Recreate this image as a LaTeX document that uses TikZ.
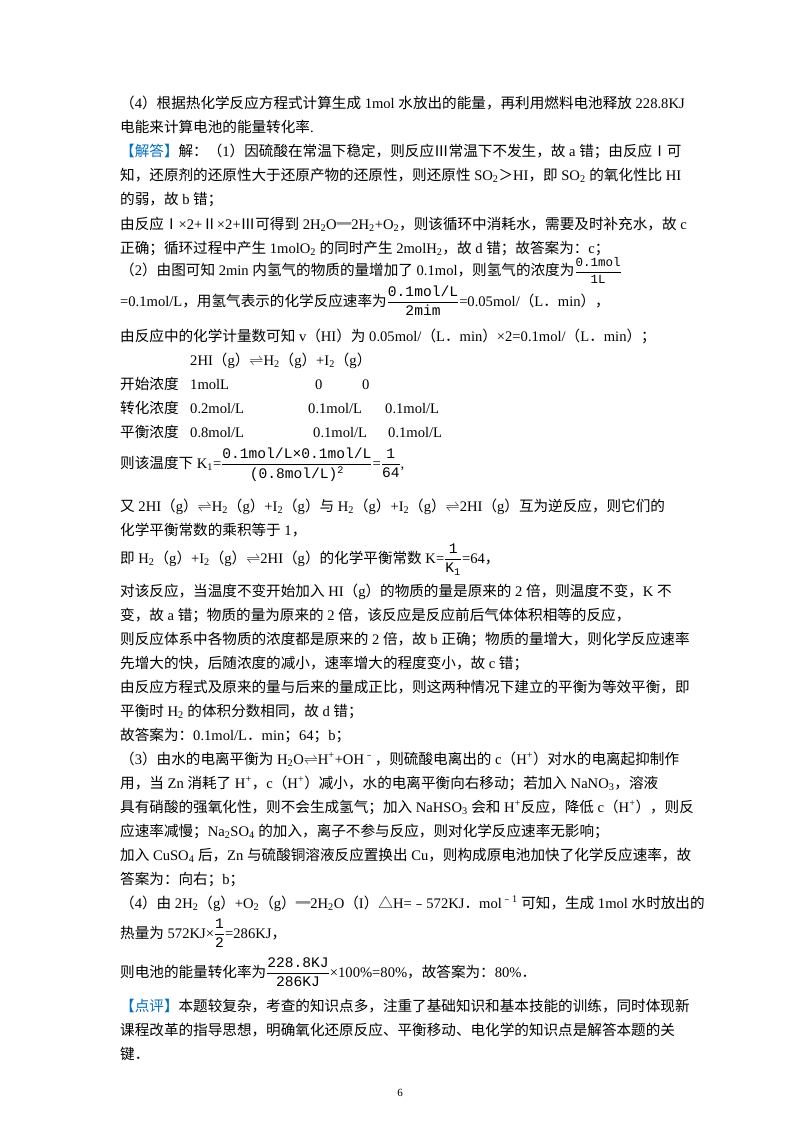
\documentclass[tikz,border=0pt]{standalone}
\usepackage{amsmath}
\usepackage{fontspec}
\setmainfont{Liberation Serif}
\newfontfamily\cjkfont{Noto Sans CJK SC}
\newfontfamily\monof{Liberation Mono}
\XeTeXinterchartokenstate=1
\newXeTeXintercharclass\cjkclass
\newcount\cc
\def\setrange#1#2{\cc=#1 \loop \XeTeXcharclass\cc=\cjkclass \ifnum\cc<#2 \advance\cc 1 \repeat}
\setrange{"4E00}{"9FFF}
\setrange{"3000}{"303F}
\setrange{"FF00}{"FFEF}
\setrange{"FE30}{"FE6F}
\setrange{"2160}{"216F}
\setrange{"25A0}{"25FF}
\setrange{"2550}{"2550}
\XeTeXinterchartoks 0 \cjkclass = {\cjkfont}
\XeTeXinterchartoks 4095 \cjkclass = {\cjkfont}
\XeTeXinterchartoks \cjkclass 0 = {\rmfamily}
\XeTeXinterchartoks \cjkclass 4095 = {\rmfamily}
\definecolor{hl}{RGB}{0,112,192}
\newcommand{\frc}[2]{$\dfrac{\hbox{\monof #1}}{\hbox{\monof #2}}$}
\newcommand{\eqh}{$\rightleftharpoons$}
\begin{document}
\begin{tikzpicture}[x=1pt,y=-1pt,t/.style={anchor=base west,inner sep=0,font=\fontsize{14.6}{22}\selectfont}]
\fill[white] (0,0) rectangle (800,1132);
\useasboundingbox (0,0) rectangle (800,1132);
\node[t] (l1) at (120,108) {（4）根据热化学反应方程式计算生成 1mol 水放出的能量，再利用燃料电池释放 228.8KJ};
\node[t] (l2) at (120,132) {电能来计算电池的能量转化率.};
\node[t] (l3) at (120,156) {\textcolor{hl}{【解答】}解：（1）因硫酸在常温下稳定，则反应Ⅲ常温下不发生，故 a 错；由反应Ⅰ可};
\node[t] (l4) at (120,180) {知，还原剂的还原性大于还原产物的还原性，则还原性 SO\textsubscript{2}＞HI，即 SO\textsubscript{2} 的氧化性比 HI};
\node[t] (l5) at (120,204) {的弱，故 b 错；};
\node[t] (l6) at (120,229) {由反应Ⅰ×2+Ⅱ×2+Ⅲ可得到 2H\textsubscript{2}O═2H\textsubscript{2}+O\textsubscript{2}，则该循环中消耗水，需要及时补充水，故 c};
\node[t] (l7) at (120,253) {正确；循环过程中产生 1molO\textsubscript{2} 的同时产生 2molH\textsubscript{2}，故 d 错；故答案为：c；};
\node[t] (l8) at (120,275) {（2）由图可知 2min 内氢气的物质的量增加了 0.1mol，则氢气的浓度为{\fontsize{12.5}{14}\selectfont\frc{0.1mol}{1L}}};
\node[t] (l9) at (120,306) {=0.1mol/L，用氢气表示的化学反应速率为\frc{0.1mol/L}{2mim}=0.05mol/（L．min），};
\node[t] (l10) at (120,341) {由反应中的化学计量数可知 v（HI）为 0.05mol/（L．min）×2=0.1mol/（L．min）；};
\node[t] (l11) at (190,365) {2HI（g）\eqh H\textsubscript{2}（g）+I\textsubscript{2}（g）};
\node[t] (r1) at (120,389) {开始浓度};
\node[t] (r1a) at (190,389) {1molL};
\node[t] (r1b) at (315,389) {0};
\node[t] (r1c) at (362,389) {0};
\node[t] (r2) at (120,413) {转化浓度};
\node[t] (r2a) at (190,413) {0.2mol/L};
\node[t] (r2b) at (308,413) {0.1mol/L};
\node[t] (r2c) at (385,413) {0.1mol/L};
\node[t] (r3) at (120,437) {平衡浓度};
\node[t] (r3a) at (190,437) {0.8mol/L};
\node[t] (r3b) at (313,437) {0.1mol/L};
\node[t] (r3c) at (388,437) {0.1mol/L};
\node[t] (l12) at (120,468) {则该温度下 K\textsubscript{1}=\frc{0.1mol/L×0.1mol/L}{(0.8mol/L)\textsuperscript{2}}=\frc{1}{64},};
\node[t] (l13) at (120,511) {又 2HI（g）\eqh H\textsubscript{2}（g）+I\textsubscript{2}（g）与 H\textsubscript{2}（g）+I\textsubscript{2}（g）\eqh 2HI（g）互为逆反应，则它们的};
\node[t] (l14) at (120,535) {化学平衡常数的乘积等于 1，};
\node[t] (l15) at (120,563) {即 H\textsubscript{2}（g）+I\textsubscript{2}（g）\eqh 2HI（g）的化学平衡常数 K=\frc{1}{K\textsubscript{1}}=64，};
\node[t] (l16) at (120,596) {对该反应，当温度不变开始加入 HI（g）的物质的量是原来的 2 倍，则温度不变，K 不};
\node[t] (l17) at (120,620) {变，故 a 错；物质的量为原来的 2 倍，该反应是反应前后气体体积相等的反应，};
\node[t] (l18) at (120,644) {则反应体系中各物质的浓度都是原来的 2 倍，故 b 正确；物质的量增大，则化学反应速率};
\node[t] (l19) at (120,668) {先增大的快，后随浓度的减小，速率增大的程度变小，故 c 错；};
\node[t] (l20) at (120,692) {由反应方程式及原来的量与后来的量成正比，则这两种情况下建立的平衡为等效平衡，即};
\node[t] (l21) at (120,716) {平衡时 H\textsubscript{2} 的体积分数相同，故 d 错；};
\node[t] (l22) at (120,740) {故答案为：0.1mol/L．min；64；b；};
\node[t] (l23) at (120,764) {（3）由水的电离平衡为 H\textsubscript{2}O\eqh H\textsuperscript{+}+OH\textsuperscript{﹣}，则硫酸电离出的 c（H\textsuperscript{+}）对水的电离起抑制作};
\node[t] (l24) at (120,788) {用，当 Zn 消耗了 H\textsuperscript{+}，c（H\textsuperscript{+}）减小，水的电离平衡向右移动；若加入 NaNO\textsubscript{3}，溶液};
\node[t] (l25) at (120,812) {具有硝酸的强氧化性，则不会生成氢气；加入 NaHSO\textsubscript{3} 会和 H\textsuperscript{+}反应，降低 c（H\textsuperscript{+}），则反};
\node[t] (l26) at (120,836) {应速率减慢；Na\textsubscript{2}SO\textsubscript{4} 的加入，离子不参与反应，则对化学反应速率无影响；};
\node[t] (l27) at (120,860) {加入 CuSO\textsubscript{4} 后，Zn 与硫酸铜溶液反应置换出 Cu，则构成原电池加快了化学反应速率，故};
\node[t] (l28) at (120,884) {答案为：向右；b；};
\node[t] (l29) at (120,908) {（4）由 2H\textsubscript{2}（g）+O\textsubscript{2}（g）═2H\textsubscript{2}O（I）△H=﹣572KJ．mol\textsuperscript{﹣1} 可知，生成 1mol 水时放出的};
\node[t] (l30) at (120,938) {热量为 572KJ×\frc{1}{2}=286KJ，};
\node[t] (l31) at (120,977) {则电池的能量转化率为\frc{228.8KJ}{286KJ}×100\%=80\%，故答案为：80\%．};
\node[t] (l32) at (120,1011) {\textcolor{hl}{【点评】}本题较复杂，考查的知识点多，注重了基础知识和基本技能的训练，同时体现新};
\node[t] (l33) at (120,1035) {课程改革的指导思想，明确氧化还原反应、平衡移动、电化学的知识点是解答本题的关};
\node[t] (l34) at (120,1059) {键．};
\node[font=\fontsize{11}{13}\selectfont,inner sep=0] (pg) at (400,1093) {6};
\end{tikzpicture}
\end{document}
